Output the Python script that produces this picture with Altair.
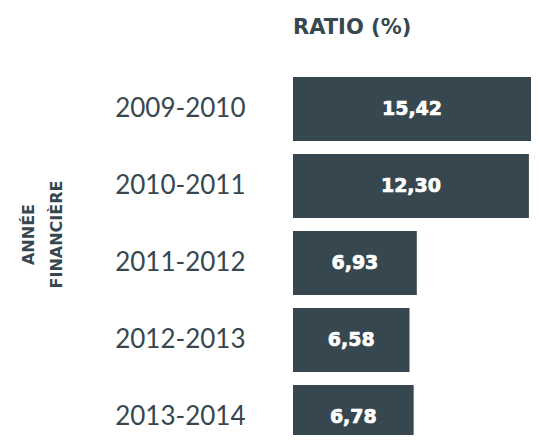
import altair as alt
import pandas as pd

years = ["2009-2010", "2010-2011", "2011-2012", "2012-2013", "2013-2014"]
ratios = [15.42, 12.30, 6.93, 6.58, 6.78]
labels = ["15,42", "12,30", "6,93", "6,58", "6,78"]

x_min, x_max = 1.0, 12.4
df = pd.DataFrame({"annee": years, "ratio": ratios, "label": labels})
df["mid"] = [(x_min + min(v, x_max)) / 2 for v in ratios]

COLOR = "#37474f"
BOLD = "DejaVu Sans"
xscale = alt.Scale(domain=[x_min, x_max], clamp=True, zero=False, nice=False)
yscale = alt.Scale(paddingInner=0.169, paddingOuter=0.0845)

yaxis = alt.Axis(
    title=["ANNÉE", "FINANCIÈRE"],
    titleFont=BOLD, titleFontWeight="bold", titleFontSize=16, titleColor=COLOR,
    titleLineHeight=28, titleAngle=270, titleAlign="center", titleBaseline="middle",
    titleX=-265, titleY=163.5,
    labelFont="Lato", labelFontWeight=400, labelFontSize=26, labelColor=COLOR,
    labelPadding=48, domain=False, ticks=False, grid=False,
)

base = alt.Chart(df)
bars = base.mark_bar(color=COLOR).encode(
    y=alt.Y("annee:N", sort=years, scale=yscale, axis=yaxis),
    x=alt.X("ratio:Q", scale=xscale, axis=None),
    x2=alt.value(0),
)
text = base.mark_text(
    color="white", font=BOLD, fontWeight="bold", fontSize=19,
    stroke="white", strokeWidth=0.7,
    baseline="middle", align="center",
).encode(
    y=alt.Y("annee:N", sort=years),
    x=alt.X("mid:Q", scale=xscale),
    text="label:N",
)

chart = alt.layer(bars, text).properties(
    width=238, height=385,
    title=alt.TitleParams(
        "RATIO (%)", anchor="start", frame="group", font=BOLD, fontWeight="bold",
        fontSize=21, color=COLOR, offset=33,
    ),
    autosize=alt.AutoSizeParams(type="none"),
    padding={"left": 285, "top": 62.5, "right": 0, "bottom": -20.5},
).configure_view(stroke=None)

chart.save("out.html", embed_options={"renderer": "svg", "actions": False})
